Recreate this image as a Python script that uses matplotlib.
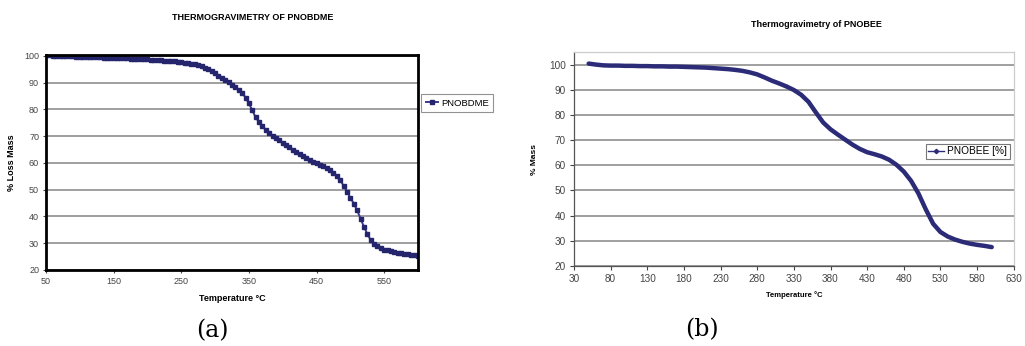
import matplotlib
matplotlib.use("Agg")
import matplotlib.pyplot as plt
from matplotlib.lines import Line2D

# ---- data: panel (a) PNOBDME (5 °C steps, 50..600) ----
temp_a = list(range(50, 601, 5))
mass_a = [100.3, 100.2, 100.1, 100.0, 100.0, 99.9, 99.9, 99.8, 99.8, 99.7,
          99.7, 99.6, 99.6, 99.5, 99.5, 99.4, 99.4, 99.3, 99.3, 99.2,
          99.2, 99.1, 99.1, 99.0, 99.0, 98.9, 98.9, 98.8, 98.8, 98.7,
          98.7, 98.6, 98.5, 98.4, 98.3, 98.2, 98.1, 98.0, 97.9, 97.7,
          97.6, 97.4, 97.2, 97.0, 96.8, 96.5, 96.1, 95.6, 94.9, 94.2,
          93.4, 92.6, 91.8, 91.0, 90.1, 89.2, 88.3, 87.3, 86.2, 84.4,
          82.2, 79.6, 77.0, 75.2, 73.8, 72.3, 71.0, 70.1, 69.2, 68.4,
          67.6, 66.7, 65.8, 64.9, 64.0, 63.2, 62.4, 61.7, 61.1, 60.5,
          60.0, 59.4, 58.8, 58.1, 57.3, 56.3, 55.2, 53.5, 51.5, 49.3,
          47.0, 44.8, 42.3, 39.2, 36.2, 33.5, 31.2, 29.8, 28.8, 28.1,
          27.6, 27.3, 27.0, 26.7, 26.5, 26.2, 26.0, 25.8, 25.7, 25.5,
          25.3]

# ---- data: panel (b) PNOBEE (10 °C steps, 50..600) ----
temp_b = list(range(50, 601, 10))
mass_b = [100.4, 100.0, 99.7, 99.6, 99.6, 99.5, 99.5, 99.4, 99.4, 99.3,
          99.3, 99.2, 99.2, 99.1, 99.0, 98.9, 98.8, 98.6, 98.4, 98.2,
          97.9, 97.5, 96.9, 96.1, 94.9, 93.6, 92.5, 91.3, 89.9, 88.0,
          85.2, 81.0, 77.0, 74.3, 72.2, 70.2, 68.2, 66.5, 65.2, 64.4,
          63.5, 62.2, 60.2, 57.5, 53.8, 48.8, 42.5, 36.8, 33.5, 31.7,
          30.5, 29.6, 28.9, 28.4, 28.0, 27.5]

xticks_a = [50, 150, 250, 350, 450, 550]
xticks_b = list(range(30, 631, 50))
yticks = list(range(20, 101, 10))

title_a = "THERMOGRAVIMETRY OF PNOBDME"
title_b = "Thermogravimetry of PNOBEE"
label_a = "PNOBDME"
label_b = "PNOBEE [%]"

plt.rcParams['font.family'] = ['Liberation Sans', 'DejaVu Sans']
line_color = '#2b2b78'
grid_color = '#858585'
tick_color = '#444444'

fig = plt.figure(figsize=(10.25, 3.46), dpi=100)

# ---------- panel (a) ----------
ax1 = fig.add_axes([0.0449, 0.2197, 0.3629, 0.6213])
ax1.plot(temp_a, mass_a, color='#3a3a8a', lw=1.4, marker='s', ms=2.5,
         mec='#25256e', mfc='#25256e', label=label_a)
ax1.set_xlim(50, 600)
ax1.set_ylim(20, 100.3)
ax1.set_xticks(xticks_a)
ax1.set_yticks(yticks)
ax1.yaxis.grid(True, color=grid_color, lw=1.1)
ax1.set_axisbelow(True)
for s in ax1.spines.values():
    s.set_linewidth(2.0)
    s.set_color('black')
ax1.tick_params(labelsize=6.5, colors=tick_color, length=2, width=0.8, pad=3)
ax1.set_xlabel("Temperature °C", fontsize=6.5, fontweight='bold', labelpad=6)
ax1.set_ylabel("% Loss Mass", fontsize=6.5, fontweight='bold', labelpad=6)
fig.text(0.247, 0.95, title_a, ha='center', va='center', fontsize=6.5, fontweight='bold')
leg1 = ax1.legend(loc='center left', bbox_to_anchor=(1.008, 0.776), fontsize=6.8,
                  frameon=True, fancybox=False, handlelength=1.3, handletextpad=0.3,
                  borderpad=0.5, borderaxespad=0.0)
leg1.get_frame().set_edgecolor('#777777')
leg1.get_frame().set_linewidth(0.8)
fig.text(0.207, 0.045, "(a)", ha='center', va='center', fontsize=17, family=['DejaVu Serif'])

# ---------- panel (b) ----------
ax2 = fig.add_axes([0.56, 0.2312, 0.429, 0.6185])
ax2.plot(temp_b, mass_b, color=line_color, lw=3.2, solid_capstyle='round',
         solid_joinstyle='round')
ax2.set_xlim(30, 630)
ax2.set_ylim(20, 105)
ax2.set_xticks(xticks_b)
ax2.set_yticks(yticks)
ax2.yaxis.grid(True, color=grid_color, lw=1.1)
ax2.set_axisbelow(True)
for name, s in ax2.spines.items():
    if name in ('left', 'bottom'):
        s.set_color('#555555')
        s.set_linewidth(0.9)
    else:
        s.set_color('#cccccc')
        s.set_linewidth(0.9)
ax2.tick_params(labelsize=7.2, colors=tick_color, length=3, width=0.8, pad=3)
ax2.set_xlabel("Temperature °C", fontsize=5.5, fontweight='bold', labelpad=5)
ax2.set_ylabel("% Mass", fontsize=6, fontweight='bold', labelpad=8)
fig.text(0.797, 0.93, title_b, ha='center', va='center', fontsize=6.5, fontweight='bold')
handle_b = Line2D([], [], color=line_color, lw=1.0, marker='D', ms=2.2)
leg2 = ax2.legend([handle_b], [label_b], loc='center right',
                  bbox_to_anchor=(0.991, 0.537), fontsize=7.3,
                  frameon=True, fancybox=False, handlelength=1.6, handletextpad=0.3,
                  borderpad=0.25, borderaxespad=0.0)
leg2.get_frame().set_edgecolor('#555555')
leg2.get_frame().set_linewidth(0.8)
fig.text(0.685, 0.047, "(b)", ha='center', va='center', fontsize=17, family=['DejaVu Serif'])

fig.savefig("out.png", dpi=100)
